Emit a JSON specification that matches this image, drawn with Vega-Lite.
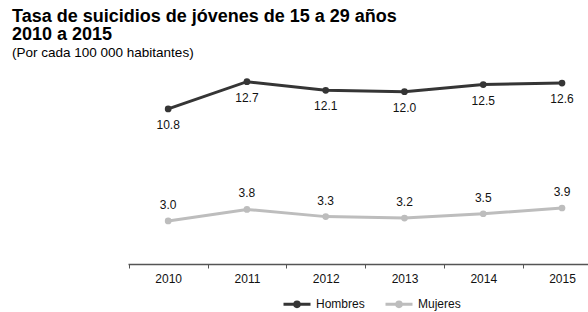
{
  "$schema": "https://vega.github.io/schema/vega-lite/v6.json",
  "width": 460,
  "height": 201,
  "autosize": {"type": "none"},
  "padding": {"left": 128, "top": 63, "right": 0, "bottom": 48},
  "background": "white",
  "config": {
    "font": "Liberation Sans",
    "view": {"stroke": null},
    "axis": {"grid": false}
  },
  "title": {
    "text": ["Tasa de suicidios de jóvenes de 15 a 29 años", "2010 a 2015"],
    "subtitle": "(Por cada 100 000 habitantes)",
    "anchor": "start",
    "frame": "group",
    "dx": -116,
    "offset": 4,
    "fontSize": 18,
    "fontWeight": "bold",
    "lineHeight": 18,
    "color": "#000000",
    "subtitleFontSize": 13.5,
    "subtitleColor": "#000000",
    "subtitlePadding": 2
  },
  "data": {
    "values": [
      {"year": 2010, "sexo": "Hombres", "valor": 10.8},
      {"year": 2011, "sexo": "Hombres", "valor": 12.7},
      {"year": 2012, "sexo": "Hombres", "valor": 12.1},
      {"year": 2013, "sexo": "Hombres", "valor": 12.0},
      {"year": 2014, "sexo": "Hombres", "valor": 12.5},
      {"year": 2015, "sexo": "Hombres", "valor": 12.6},
      {"year": 2010, "sexo": "Mujeres", "valor": 3.0},
      {"year": 2011, "sexo": "Mujeres", "valor": 3.8},
      {"year": 2012, "sexo": "Mujeres", "valor": 3.3},
      {"year": 2013, "sexo": "Mujeres", "valor": 3.2},
      {"year": 2014, "sexo": "Mujeres", "valor": 3.5},
      {"year": 2015, "sexo": "Mujeres", "valor": 3.9}
    ]
  },
  "encoding": {
    "x": {
      "field": "year",
      "type": "quantitative",
      "scale": {"domain": [2009.49, 2015.33], "nice": false, "zero": false},
      "axis": {
        "title": null,
        "values": [2009.5, 2010, 2010.5, 2011, 2011.5, 2012, 2012.5, 2013, 2013.5, 2014, 2014.5, 2015],
        "labelExpr": "datum.value % 1 === 0 ? format(datum.value, 'd') : ''",
        "labelOverlap": false,
        "labelFlush": false,
        "labelBound": false,
        "tickOpacity": {"condition": {"test": "datum.value % 1 !== 0", "value": 1}, "value": 0},
        "tickSize": 4,
        "tickColor": "#555555",
        "tickWidth": 1,
        "domainColor": "#555555",
        "domainWidth": 1.5,
        "labelFontSize": 12,
        "labelColor": "#111111",
        "labelPadding": 5
      }
    },
    "y": {
      "field": "valor",
      "type": "quantitative",
      "scale": {"domain": [0, 14], "nice": false},
      "axis": null
    },
    "color": {
      "field": "sexo",
      "type": "nominal",
      "scale": {"domain": ["Hombres", "Mujeres"], "range": ["#353535", "#bdbdbd"]},
      "legend": {
        "title": null,
        "orient": "none",
        "direction": "horizontal",
        "legendX": 154,
        "legendY": 226,
        "symbolType": "M-1,0H1M-0.17,0A0.17,0.17,0,1,1,0.17,0A0.17,0.17,0,1,1,-0.17,0Z",
        "symbolSize": 729,
        "symbolStrokeWidth": 3,
        "labelFontSize": 12,
        "labelColor": "#111111",
        "labelOffset": 4,
        "columnPadding": 14
      }
    }
  },
  "layer": [
    {"mark": {"type": "line", "strokeWidth": 3}},
    {"mark": {"type": "point", "filled": true, "size": 45, "opacity": 1}},
    {
      "transform": [{"filter": "datum.sexo === 'Hombres'"}],
      "mark": {"type": "text", "dy": 20, "baseline": "alphabetic", "fontSize": 12, "color": "#111111"},
      "encoding": {"text": {"field": "valor", "type": "quantitative", "format": ".1f"}, "color": {"value": "#111111"}}
    },
    {
      "transform": [{"filter": "datum.sexo === 'Mujeres'"}],
      "mark": {"type": "text", "dy": -12, "baseline": "alphabetic", "fontSize": 12, "color": "#111111"},
      "encoding": {"text": {"field": "valor", "type": "quantitative", "format": ".1f"}, "color": {"value": "#111111"}}
    }
  ]
}
